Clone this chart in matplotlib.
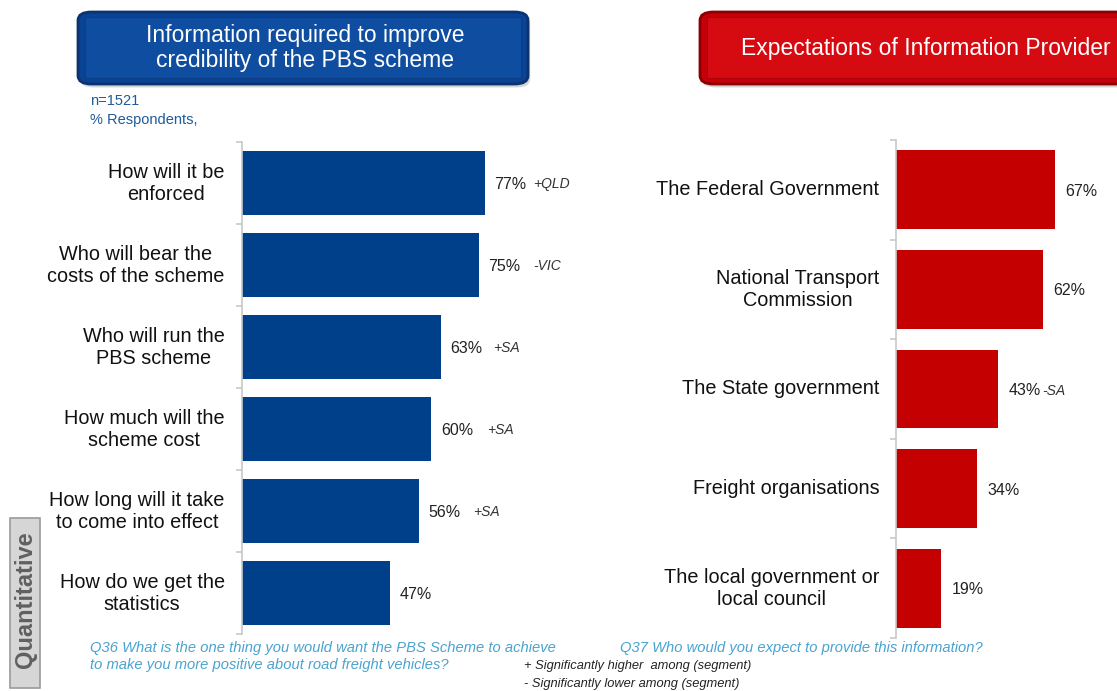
import matplotlib
matplotlib.use("Agg")
import matplotlib.pyplot as plt
from matplotlib.patches import FancyBboxPatch, Rectangle

plt.rcParams['font.family'] = ['Liberation Sans', 'DejaVu Sans']

left_cats = ["How will it be\nenforced", "Who will bear the\ncosts of the scheme",
             "Who will run the\nPBS scheme", "How much will the\nscheme cost",
             "How long will it take\nto come into effect", "How do we get the\nstatistics"]
left_vals = [77, 75, 63, 60, 56, 47]
left_notes = ["+QLD", "-VIC", "+SA", "+SA", "+SA", ""]

right_cats = ["The Federal Government", "National Transport\nCommission",
              "The State government", "Freight organisations",
              "The local government or\nlocal council"]
right_vals = [67, 62, 43, 34, 19]
right_notes = ["", "", "-SA", "", ""]

W, H = 1117, 691
fig = plt.figure(figsize=(W/100, H/100), dpi=100)

def fx(x): return x / W
def fy(y): return 1 - y / H

BLUE = "#003f8a"
RED = "#c40000"

def setup_ax(ax, n):
    ax.set_ylim(n - 0.5, -0.5)
    for s in ["top", "right", "bottom"]:
        ax.spines[s].set_visible(False)
    ax.spines["left"].set_color("#c8c8c8")
    ax.spines["left"].set_linewidth(1.2)
    ax.set_xticks([])
    ax.set_yticks([])
    ax.set_yticks([i - 0.5 for i in range(n + 1)], minor=True)
    ax.tick_params(axis='y', which='minor', length=4, color="#c8c8c8", width=1.2)
    ax.patch.set_alpha(0)

# Left chart
axL = fig.add_axes([fx(242), fy(634), 315.6 / W, 492 / H])
yl = list(range(len(left_vals)))
axL.barh(yl, left_vals, height=0.79, color=BLUE)
axL.set_xlim(0, 100)
setup_ax(axL, len(left_vals))
note_dx_L = [15.2, 17.2, 16.5, 17.6, 17.2, 0]
for i, (c, v, nt) in enumerate(zip(left_cats, left_vals, left_notes)):
    axL.text(-5.5, i, c, ha='right', va='center', multialignment='center',
             fontsize=14.3, color="#111111", linespacing=1.2)
    axL.text(v + 3, i + 0.075, f"{v}%", ha='left', va='baseline', fontsize=11.5, color="#222222")
    if nt:
        axL.text(v + note_dx_L[i], i + 0.06, nt, ha='left', va='baseline', fontsize=10,
                 style='italic', color="#333333")

# Right chart
axR = fig.add_axes([fx(896), fy(638), (W - 896) / W, 498 / H])
yr = list(range(len(right_vals)))
axR.barh(yr, right_vals, height=0.79, color=RED)
axR.set_xlim(0, (W - 896) / 2.37)
setup_ax(axR, len(right_vals))
for i, (c, v, nt) in enumerate(zip(right_cats, right_vals, right_notes)):
    axR.text(-7, i, c, ha='right', va='center', multialignment='center',
             fontsize=14.3, color="#111111", linespacing=1.2)
    axR.text(v + 4.5, i + 0.06, f"{v}%", ha='left', va='baseline', fontsize=11.5, color="#222222")
    if nt:
        axR.text(v + 18.6, i + 0.06, nt, ha='left', va='baseline', fontsize=10,
                 style='italic', color="#333333")

# Title boxes
def title_box(x0, y0, x1, y1, fc_out, fc_in, ec, iec, text, tx):
    sh = FancyBboxPatch((fx(x0) + 0.002, fy(y1) - 0.005), fx(x1 - x0), (y1 - y0) / H,
                        boxstyle="round,pad=0,rounding_size=0.012",
                        transform=fig.transFigure, fc="#888888", ec="none", alpha=0.35)
    fig.patches.append(sh)
    b = FancyBboxPatch((fx(x0), fy(y1)), fx(x1 - x0), (y1 - y0) / H,
                       boxstyle="round,pad=0,rounding_size=0.012",
                       transform=fig.transFigure, fc=fc_out, ec=ec, lw=2.0)
    fig.patches.append(b)
    inner = Rectangle((fx(x0 + 7), fy(y1 - 6)), fx(x1 - x0 - 14), (y1 - y0 - 11) / H,
                      transform=fig.transFigure, fc=fc_in, ec=iec, lw=0.8)
    fig.patches.append(inner)
    fig.text(fx(tx), fy((y0 + y1) / 2), text, ha='center', va='center',
             color='white', fontsize=16.5, linespacing=1.1)

title_box(78, 12, 528, 84, "#0a4394", "#0e4da0", "#0b3370", "#0a3f88",
          "Information required to improve\ncredibility of the PBS scheme", 305)
title_box(700, 12, 1145, 84, "#c4000a", "#d60b12", "#8e0000", "#b00008",
          "Expectations of Information Provider", 926)

# n and % respondents
fig.text(fx(90), fy(101), "n=1521", fontsize=10.5, color="#1f5a9a", va='center')
fig.text(fx(90), fy(120), "% Respondents,", fontsize=10.5, color="#1f5a9a", va='center')

# Footers
fc_q = "#4aa3cf"
fig.text(fx(90), fy(648), "Q36 What is the one thing you would want the PBS Scheme to achieve",
         fontsize=10.6, style='italic', color=fc_q, va='center')
fig.text(fx(90), fy(665), "to make you more positive about road freight vehicles?",
         fontsize=10.6, style='italic', color=fc_q, va='center')
fig.text(fx(620), fy(648), "Q37 Who would you expect to provide this information?",
         fontsize=10.6, style='italic', color=fc_q, va='center')
fig.text(fx(524), fy(666), "+ Significantly higher  among (segment)",
         fontsize=9.3, style='italic', color="#222222", va='center')
fig.text(fx(524), fy(684), "- Significantly lower among (segment)",
         fontsize=9.3, style='italic', color="#222222", va='center')

# Quantitative side tab
qb = Rectangle((fx(10), fy(688)), fx(30), 170 / H, transform=fig.transFigure,
               fc="#d6d6d6", ec="#9a9a9a", lw=1.2)
fig.patches.append(qb)
fig.text(fx(25.5), fy(600), "Quantitative", rotation=90, ha='center', va='center',
         fontsize=17, fontweight='bold', color="#606060")

fig.savefig("out.png", dpi=100)
